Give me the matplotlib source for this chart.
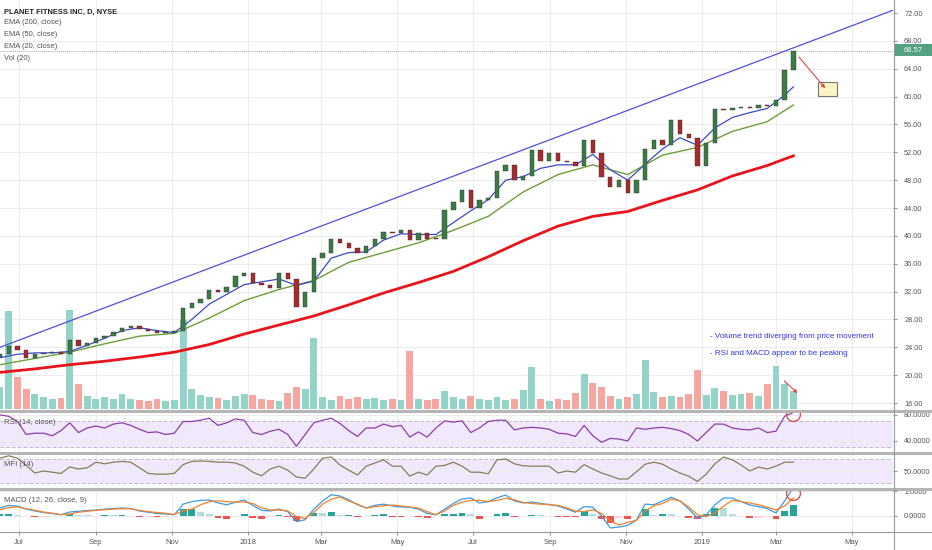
import matplotlib
matplotlib.use("Agg")
import matplotlib.pyplot as plt
import matplotlib.dates as mdates
from matplotlib.lines import Line2D
from matplotlib.patches import Rectangle
import numpy as np
import pandas as pd

plt.rcParams["font.family"] = ["Liberation Sans", "DejaVu Sans"]

# weekly samples (Jun 2017 - Mar 2019)
weeks = pd.date_range("2017-06-16", periods=92, freq="7D")
first_open = 22.6
close = [23.0, 24.2, 23.6, 22.5, 23.0, 23.2, 23.3, 23.0, 25.0, 24.2,
         24.6, 25.3, 25.6, 26.2, 26.8, 27.0, 26.6, 26.4, 26.0, 26.2,
         26.3, 29.6, 30.3, 31.0, 32.2, 32.0, 32.6, 34.3, 34.7, 33.3,
         33.0, 32.5, 34.6, 33.8, 29.8, 32.0, 36.8, 37.6, 39.6, 39.0,
         38.3, 37.5, 38.5, 39.6, 40.6, 40.4, 40.8, 39.4, 40.4, 39.6,
         39.5, 43.7, 44.8, 46.6, 44.0, 45.1, 45.5, 49.3, 50.2, 48.0,
         48.6, 52.3, 50.8, 51.9, 50.8, 50.6, 50.0, 53.8, 51.9, 48.4,
         47.0, 48.0, 46.1, 48.0, 52.5, 53.8, 53.0, 56.6, 54.6, 54.0,
         50.0, 53.3, 58.2, 58.1, 58.3, 58.4, 58.3, 58.8, 58.6, 59.5,
         63.8, 66.57]
volume = [2.2, 9.8, 3.2, 2.0, 1.5, 1.2, 1.0, 1.1, 9.9, 2.5,
          1.3, 1.0, 1.2, 1.0, 1.5, 1.0, 0.9, 0.8, 1.0, 0.8,
          0.9, 8.9, 2.0, 1.4, 1.2, 1.1, 0.9, 1.3, 1.5, 1.4,
          1.0, 0.9, 0.8, 1.6, 2.2, 2.0, 7.1, 1.2, 0.9, 1.3,
          1.0, 1.2, 1.0, 1.1, 0.9, 1.0, 0.9, 5.8, 1.0, 0.9,
          1.0, 1.8, 1.2, 1.0, 1.3, 1.0, 0.9, 1.2, 0.9, 1.0,
          1.9, 4.2, 1.0, 0.8, 1.0, 0.9, 1.6, 3.5, 2.6, 2.2,
          1.3, 1.0, 1.2, 1.5, 4.9, 1.7, 1.2, 1.3, 1.2, 1.5,
          3.9, 1.4, 2.1, 1.8, 1.4, 1.5, 1.6, 1.3, 2.5, 4.3,
          2.5, 1.8]  # millions
vol_top = 40.9  # volume value at top of price pane

ema_slow_idx = list(range(0, 92, 4)) + [91]
ema200 = [20.4, 20.9, 21.5, 22.0, 22.6, 23.3, 24.4, 25.9, 27.2, 28.5, 30.1, 31.8,
          33.3, 34.9, 37.0, 39.3, 41.4, 42.8, 43.5, 45.1, 46.6, 48.6, 50.1, 51.5]
ema50 = [21.5, 22.4, 23.3, 24.5, 25.6, 26.0, 28.2, 30.7, 32.3, 33.6, 36.2, 37.6,
         39.0, 40.8, 42.8, 46.3, 48.8, 50.2, 48.8, 51.6, 52.7, 55.0, 56.4, 58.8]
ema_fast_idx = list(range(0, 92, 2)) + [91]
ema20 = [22.5, 23.0, 23.2, 23.2, 23.4, 24.3, 25.3, 26.4, 26.8, 26.4, 26.1, 28.0,
         30.2, 31.6, 33.0, 33.4, 33.8, 32.9, 33.5, 36.8, 37.6, 37.7, 39.4, 40.3,
         40.2, 40.2, 41.9, 43.6, 45.2, 48.0, 48.5, 49.7, 50.2, 50.2, 51.7, 49.5,
         48.0, 50.3, 52.5, 54.1, 53.0, 55.5, 57.0, 57.7, 58.3, 60.2, 61.4]

rsi = [80, 78, 70, 50, 52, 52, 48, 56, 68, 53,
       60, 63, 60, 66, 68, 64, 58, 53, 54, 50,
       52, 70, 70, 72, 75, 64, 68, 74, 72, 53,
       50, 55, 58, 50, 32, 50, 68, 72, 75, 67,
       56, 47, 60, 60, 66, 62, 64, 46, 54, 46,
       60, 71, 69, 71, 53, 60, 70, 72, 72, 57,
       60, 61, 60, 58, 52, 51, 47, 64, 48, 38,
       44, 43, 40, 60, 58, 60, 61, 59, 56, 50,
       40, 53, 66, 66, 60, 58, 57, 60, 53, 55,
       78, 84]
mfi = [82, 88, 82, 64, 45, 50, 47, 44, 60, 55,
       58, 72, 68, 72, 74, 72, 58, 44, 42, 42,
       44, 66, 74, 75, 74, 72, 72, 70, 62, 47,
       38, 55, 62, 52, 35, 32, 55, 82, 85, 65,
       52, 40, 62, 70, 78, 62, 62, 37, 47, 40,
       62, 64, 72, 62, 47, 47, 43, 78, 80, 68,
       63, 62, 62, 62, 45, 50, 47, 66, 55, 45,
       38, 30, 30, 48, 67, 72, 67, 55, 45, 37,
       24, 42, 68, 85, 78, 65, 50, 60, 55, 62,
       72, 72]
macd = [0.64, 0.85, 0.80, 0.55, 0.40, 0.28, 0.20, 0.10, 0.32, 0.38,
        0.44, 0.48, 0.55, 0.60, 0.64, 0.60, 0.40, 0.30, 0.20, 0.16,
        0.10, 0.95, 1.15, 1.25, 1.28, 1.05, 0.90, 1.10, 1.28, 0.85,
        0.45, 0.40, 0.55, 0.35, -0.45, -0.30, 0.55, 1.20, 1.70, 1.60,
        1.30, 0.90, 0.64, 0.85, 0.95, 0.80, 0.72, 0.70, 0.55, 0.20,
        0.10, 0.55, 1.00, 1.35, 1.45, 1.04, 1.15, 1.45, 1.68, 1.20,
        1.05, 1.12, 1.00, 0.92, 0.80, 0.56, 0.30, 0.75, 0.70, 0.00,
        -0.96, -0.88, -0.75, -0.32, 0.95, 0.90, 1.20, 1.50, 1.20, 0.55,
        -0.16, 0.08, 0.90, 1.44, 1.44, 1.15, 0.88, 0.75, 0.60, 0.24,
        1.20, 2.30]
signal = [0.50, 0.68, 0.72, 0.58, 0.45, 0.32, 0.22, 0.12, 0.15, 0.30,
          0.38, 0.45, 0.50, 0.55, 0.58, 0.58, 0.45, 0.35, 0.28, 0.22,
          0.12, 0.40, 0.55, 0.90, 1.15, 1.22, 1.15, 1.12, 1.12, 1.00,
          0.65, 0.48, 0.48, 0.40, -0.05, -0.20, 0.30, 0.95, 1.35, 1.52,
          1.20, 0.95, 0.64, 0.75, 0.82, 0.88, 0.80, 0.72, 0.64, 0.35,
          0.10, 0.40, 0.85, 1.10, 1.25, 1.25, 1.15, 1.25, 1.42, 1.30,
          1.08, 1.00, 0.95, 0.90, 0.85, 0.65, 0.40, 0.35, 0.50, 0.20,
          -0.40, -0.72, -0.50, -0.35, 0.40, 0.82, 1.00, 1.35, 1.20, 0.72,
          0.10, -0.05, 0.25, 0.80, 1.25, 1.15, 1.04, 0.90, 0.70, 0.48,
          0.80, 1.45]

trend_dates = pd.to_datetime(["2017-06-16", "2019-06-03"])
trend_prices = [24.0, 72.4]
last_price = 66.57
month_ticks = pd.date_range("2017-07-01", "2019-05-01", freq="2MS")
month_labels = ["Jul", "Sep", "Nov", "2018", "Mar", "May",
                "Jul", "Sep", "Nov", "2019", "Mar", "May"]
notes = ["- Volume trend diverging from price movement",
         "- RSI and MACD appear to be peaking"]

W, H = 932, 550
XL = (pd.Timestamp("2017-06-16"), pd.Timestamp("2019-06-03"))
UP, DN = "#3a7d44", "#a82a2a"
GRID = "#ececec"
TXT = "#555555"


def rect(top, bottom):
    return [0, 1 - bottom / H, 893 / W, (bottom - top) / H]


def prep(ax, yticks, fmt):
    for s in ax.spines.values():
        s.set_visible(False)
    ax.set_xlim(*XL)
    ax.set_xticks(month_ticks)
    ax.yaxis.tick_right()
    ax.set_yticks(yticks)
    ax.set_yticklabels([fmt.format(v) for v in yticks])
    ax.tick_params(axis="y", length=3, color="#999", labelsize=5.3, labelcolor=TXT, pad=5)
    ax.tick_params(axis="x", length=0, labelbottom=False)
    ax.grid(True, color=GRID, lw=0.7, zorder=0)
    ax.set_axisbelow(True)


fig = plt.figure(figsize=(W / 100, H / 100), dpi=100)
ax_p = fig.add_axes(rect(0, 409))
ax_r = fig.add_axes(rect(412, 451))
ax_m = fig.add_axes(rect(455, 487))
ax_c = fig.add_axes(rect(490, 531))

# ---- price pane
prep(ax_p, np.arange(16, 73, 4), "{:.2f}")
ax_p.set_ylim(15.14, 73.87)
opens = [first_open] + close[:-1]
up = [c >= o for o, c in zip(opens, close)]
vcols = ["#93d3c8" if u else "#f5a6a0" for u in up]
ax_p.bar(weeks, [v / vol_top for v in volume], width=5.5, color=vcols,
         transform=ax_p.get_xaxis_transform(), zorder=1)
ax_p.plot(weeks[ema_slow_idx], ema200, color="#e8141b", lw=2.0, zorder=2)
ax_p.plot(weeks[ema_slow_idx], ema50, color="#6d9e3a", lw=1.0, zorder=2)
ax_p.plot(weeks[ema_fast_idx], ema20, color="#3d48c8", lw=0.9, zorder=2)
lo = [min(o, c) for o, c in zip(opens, close)]
hi = [max(abs(c - o), 0.15) for o, c in zip(opens, close)]
ax_p.bar(weeks, hi, bottom=lo, width=3.5, color=[UP if u else DN for u in up],
         edgecolor="#333", linewidth=0.3, zorder=4)
ax_p.plot(trend_dates, trend_prices, color="#5050dd", lw=0.9, zorder=5)
ax_p.axhline(last_price, color="#888", lw=0.6, ls=(0, (1, 1.5)), zorder=3)

# drawings
ax_p.add_patch(Rectangle((mdates.date2num(pd.Timestamp("2019-04-04")), 60.1), 15, 2.0,
                         fc="#fbf5c6", ec="#777", lw=0.8, zorder=6))
ax_p.annotate("", xy=(pd.Timestamp("2019-04-11"), 60.9), xytext=(pd.Timestamp("2019-03-18"), 66.0),
              arrowprops=dict(arrowstyle="-|>", color="#e04848", lw=0.8, mutation_scale=5),
              zorder=7)
ax_p.annotate("", xy=(pd.Timestamp("2019-03-20"), 17.15), xytext=(pd.Timestamp("2019-03-06"), 19.45),
              arrowprops=dict(arrowstyle="-|>", color="#e04848", lw=0.8, mutation_scale=5),
              zorder=7)
for txt, y in zip(notes, [25.62, 23.18]):
    ax_p.text(pd.Timestamp("2019-01-07"), y, txt, color="#3535d8", fontsize=5.8, va="center",
              family=["Liberation Sans Narrow", "Liberation Sans"], zorder=7)

# ---- RSI pane
prep(ax_r, [40, 80], "{:.4f}")
ax_r.set_ylim(24.6, 84.6)
ax_r.axhspan(30, 70, color="#f1e8fc", zorder=0.5)
for v in (30, 70):
    ax_r.axhline(v, color="#b8b8b8", lw=0.6, ls=(0, (4, 3)), zorder=1)
ax_r.plot(weeks, rsi, color="#8e3ea8", lw=0.9, zorder=3)
ax_r.plot(weeks[-1], 81.5, "o", ms=10, mfc="none", mec="#e05050", mew=1.0, zorder=4)

# ---- MFI pane
prep(ax_m, [50], "{:.4f}")
ax_m.set_ylim(10, 90)
ax_m.axhspan(20, 80, color="#f1e8fc", zorder=0.5)
for v in (20, 80):
    ax_m.axhline(v, color="#b8b8b8", lw=0.6, ls=(0, (4, 3)), zorder=1)
ax_m.plot(weeks, mfi, color="#857f5c", lw=0.9, zorder=3)

# ---- MACD pane
prep(ax_c, [0, 2], "{:.4f}")
ax_c.set_ylim(-1.2, 2.08)
hist = [m - s for m, s in zip(macd, signal)]
hcols = []
for i, h in enumerate(hist):
    prev = hist[i - 1] if i else h
    if h >= 0:
        hcols.append("#26a69a" if h >= prev else "#b2dfdb")
    else:
        hcols.append("#ef5350" if h < prev else "#ffcdd2")
ax_c.bar(weeks, hist, width=5.5, color=hcols, zorder=2)
ax_c.plot(weeks, macd, color="#3a9be6", lw=0.9, zorder=3)
ax_c.plot(weeks, signal, color="#f5812a", lw=0.9, zorder=3)
ax_c.plot(weeks[-1], 1.84, "o", ms=10, mfc="none", mec="#e05050", mew=1.0, zorder=4)
ax_c.tick_params(axis="x", length=3, color="#999", labelbottom=True,
                 labelsize=5.5, labelcolor=TXT, pad=3)
ax_c.set_xticklabels(month_labels)

# ---- frame, separators, labels
for y in (410.5, 453, 488.5):
    fig.add_artist(Line2D([0, 1], [1 - y / H] * 2, color="#b5b5b5", lw=2.2))
fig.add_artist(Line2D([0, 1], [1 - 531.5 / H] * 2, color="#9a9a9a", lw=0.8))
fig.add_artist(Line2D([893.5 / W] * 2, [0, 1], color="#9a9a9a", lw=0.8))

fig.add_artist(Rectangle((893.5 / W, 1 - 56 / H), 38 / W, 12 / H, transform=fig.transFigure,
                         fc="#53a382", ec="none"))
fig.text(913 / W, 1 - 50 / H, f"{last_price:.2f}", color="white", fontsize=5.5,
         ha="center", va="center")

legend = ["PLANET FITNESS INC, D, NYSE", "EMA (200, close)", "EMA (50, close)",
          "EMA (20, close)", "Vol (20)"]
for i, (t, y) in enumerate(zip(legend, [12, 23, 34.5, 46, 58])):
    fig.text(4 / W, 1 - y / H, t, fontsize=5.4, va="center",
             color="#222" if i == 0 else TXT, fontweight="bold" if i == 0 else "normal")
for t, y in zip(["RSI (14, close)", "MFI (14)", "MACD (12, 26, close, 9)"], [423, 464, 500]):
    fig.text(4 / W, 1 - y / H, t, fontsize=5.6, va="center", color=TXT)

fig.savefig("out.png", dpi=100)
